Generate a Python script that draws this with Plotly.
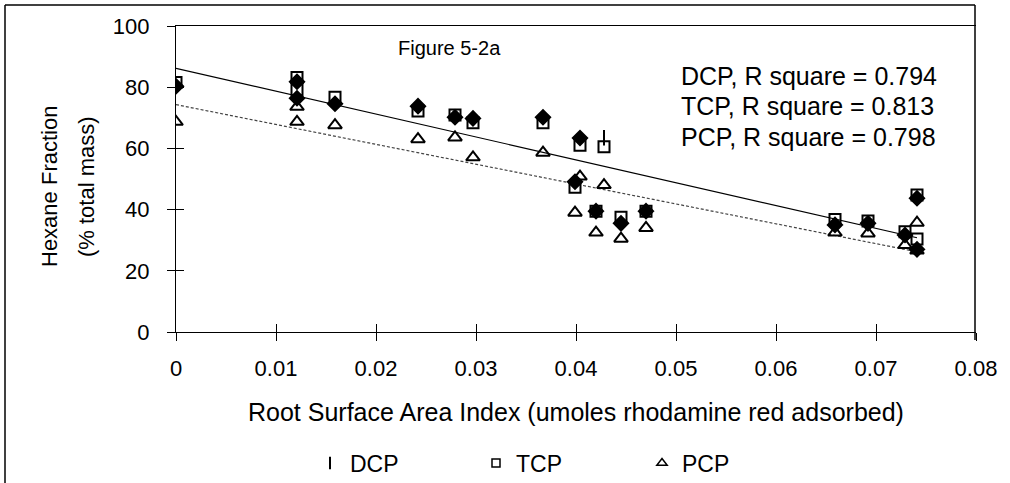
import numpy as np
import plotly.graph_objects as go

# ---- data ----
x_vals = [0.0, 0.0121, 0.0121, 0.0159, 0.0242, 0.0279, 0.0297, 0.0367, 0.0399, 0.0404,
          0.0420, 0.0428, 0.0445, 0.0470, 0.0659, 0.0692, 0.0729, 0.0741, 0.0741]
dcp = [80.3, 81.8, 76.4, 74.6, 73.8, 70.2, 69.8, 70.2, 49.1, 63.4,
       39.5, 63.5, 35.5, 39.5, 35.0, 35.5, 31.7, 43.7, 27.0]
tcp = [81.5, 83.2, 79.2, 76.7, 72.2, 70.9, 68.4, 68.4, 47.3, 61.0,
       39.5, 60.5, 37.5, 39.5, 36.8, 36.3, 32.8, 44.8, 30.4]
pcp = [68.7, 73.6, 68.7, 67.6, 63.0, 63.6, 57.1, 58.6, 39.0, 50.8,
       32.5, 48.0, 30.5, 34.0, 32.5, 32.2, 28.4, 35.7, 26.6]
series_names = ["DCP", "TCP", "PCP"]
r_square = [0.794, 0.813, 0.798]
x_ticks = [0, 0.01, 0.02, 0.03, 0.04, 0.05, 0.06, 0.07, 0.08]
y_ticks = [0, 20, 40, 60, 80, 100]

# ---- layout helpers (pixel -> paper) ----
W, H = 1010, 483
L, R, T, B = 176, 34, 26, 151
PW, PH = W - L - R, H - T - B
def px(xp):
    return (xp - L) / PW
def py(yp):
    return (H - B - yp) / PH

FONT = "Liberation Sans, Arial, sans-serif"
fig = go.Figure()

# trend lines from linear fits (DCP solid, PCP dashed)
xs = np.array(x_vals)
line_styles = {"DCP": dict(color="black", width=1.2, dash="solid"),
               "PCP": dict(color="#444444", width=1.2, dash="3px,2px")}
for name, ys in zip(series_names, [dcp, tcp, pcp]):
    if name not in line_styles:
        continue
    m, b = np.polyfit(xs, np.array(ys), 1)
    xl = np.array([0.0, xs.max()])
    fig.add_trace(go.Scatter(x=xl, y=m * xl + b, mode="lines", line=line_styles[name],
                             showlegend=False, hoverinfo="skip"))

# data markers
fig.add_trace(go.Scatter(x=x_vals, y=tcp, mode="markers", showlegend=False, name="TCP",
                         marker=dict(symbol="square-open", size=11, color="black",
                                     line=dict(width=2, color="black"))))
fig.add_trace(go.Scatter(x=x_vals, y=pcp, mode="markers", showlegend=False, name="PCP",
                         marker=dict(symbol="triangle-up-open", size=12, color="black",
                                     line=dict(width=2, color="black"))))
dcp_symbols = ["diamond"] * len(x_vals)
dcp_symbols[11] = "line-ns"
fig.add_trace(go.Scatter(x=x_vals, y=dcp, mode="markers", showlegend=False, name="DCP",
                         marker=dict(symbol=dcp_symbols, size=11, color="black",
                                     line=dict(width=2, color="black"))))

# legend-only entries
leg_markers = [dict(symbol="line-ns", size=9, color="black", line=dict(width=2, color="black")),
               dict(symbol="square-open", size=8, color="black", line=dict(width=1.5, color="black")),
               dict(symbol="triangle-up-open", size=9, color="black", line=dict(width=1.5, color="black"))]
for name, mk in zip(series_names, leg_markers):
    fig.add_trace(go.Scatter(x=[None], y=[None], mode="markers", name=name, marker=mk))

axis_common = dict(showgrid=False, zeroline=False, showline=True, linecolor="black",
                   linewidth=1.2, tickcolor="black", tickwidth=1.2, ticklen=8)
fig.update_layout(
    width=W, height=H, autosize=False, margin=dict(l=L, r=R, t=T, b=B, autoexpand=False),
    paper_bgcolor="white", plot_bgcolor="white",
    font=dict(family=FONT, size=22, color="black"),
    xaxis=dict(range=[0, 0.08], tickvals=x_ticks, ticktext=[f"{v:g}" for v in x_ticks],
               ticks="outside", mirror=True, ticklabelstandoff=8, **axis_common),
    xaxis2=dict(range=[0, 0.08], overlaying="x", matches="x", tickvals=x_ticks,
                ticks="inside", showticklabels=False, anchor="y", side="bottom", **axis_common),
    yaxis=dict(range=[0, 100], tickvals=y_ticks, ticks="outside", ticklabelstandoff=13,
               **axis_common),
    yaxis2=dict(range=[0, 100], overlaying="y", matches="y", tickvals=y_ticks,
                ticks="inside", showticklabels=False, anchor="x", side="left", **axis_common),
    legend=dict(orientation="h", xref="container", x=310 / W, xanchor="left",
                yref="container", y=(H - 463) / H, yanchor="middle",
                font=dict(size=23), entrywidth=121, entrywidthmode="pixels",
                bgcolor="rgba(0,0,0,0)"),
    showlegend=True,
)
# dummy trace so overlay axes render
fig.add_trace(go.Scatter(x=[None], y=[None], xaxis="x2", yaxis="y2", showlegend=False))

annotations = [
    dict(text="Root Surface Area Index (umoles rhodamine red adsorbed)", x=px(576), y=py(412),
         xanchor="center", yanchor="middle", font=dict(size=25)),
    dict(text="Hexane Fraction", x=px(49), y=py(187), textangle=-90,
         xanchor="center", yanchor="middle", font=dict(size=22)),
    dict(text="(% total mass)", x=px(86), y=py(187), textangle=-90,
         xanchor="center", yanchor="middle", font=dict(size=22)),
    dict(text="Figure 5-2a", x=px(449), y=py(48), xanchor="center", yanchor="middle",
         font=dict(size=20)),
]
for i, (name, r2) in enumerate(zip(series_names, r_square)):
    annotations.append(dict(text=f"{name}, R square = {r2:.3f}", x=px(679), y=py(76 + 30.5 * i),
                            xanchor="left", yanchor="middle", font=dict(size=25)))
for a in annotations:
    a.update(xref="paper", yref="paper", showarrow=False)
fig.update_layout(annotations=annotations)

frame = dict(type="line", xref="paper", yref="paper", line=dict(color="black", width=1.5))
fig.update_layout(shapes=[
    dict(frame, x0=px(5), x1=px(5), y0=py(5), y1=py(483)),
    dict(frame, x0=px(5), x1=px(975), y0=py(5), y1=py(5)),
    dict(frame, x0=px(975), x1=px(975), y0=py(5), y1=py(340)),
])

fig.write_html("out.html",
               config={"responsive": False, "displayModeBar": False},
               post_script="document.body.style.margin='0';")
